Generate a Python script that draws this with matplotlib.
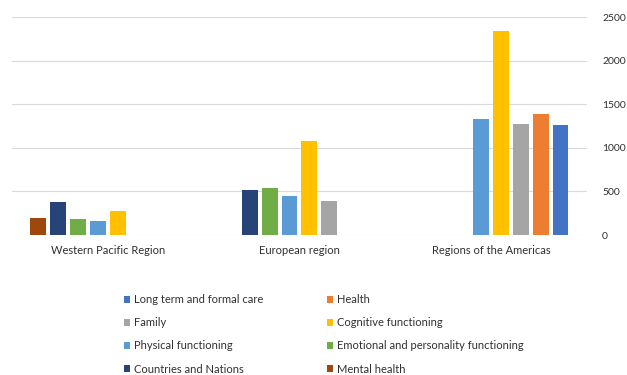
import matplotlib
matplotlib.use("Agg")
import matplotlib.pyplot as plt
import numpy as np

plt.rcParams['font.family'] = ['Lato', 'DejaVu Sans']

# Data
regions = ["Western Pacific Region", "European region", "Regions of the Americas"]

mental_health = [200, 0, 0]
countries_nations = [375, 512, 0]
emotional = [185, 535, 0]
physical = [165, 443, 1330]
cognitive = [280, 1075, 2345]
family = [0, 390, 1275]
health = [0, 0, 1390]
long_term = [0, 0, 1260]

# slot order left to right inside each group
series = [
    ("Mental health", mental_health, "#9E480E"),
    ("Countries and Nations", countries_nations, "#264478"),
    ("Emotional and personality functioning", emotional, "#70AD47"),
    ("Physical functioning", physical, "#5B9BD5"),
    ("Cognitive functioning", cognitive, "#FFC000"),
    ("Family", family, "#A5A5A5"),
    ("Health", health, "#ED7D31"),
    ("Long term and formal care", long_term, "#4472C4"),
]

text_col = "#303030"
grid_col = "#D9D9D9"

fig = plt.figure(figsize=(6.27, 3.75), dpi=100)
ax = fig.add_axes([0.019, 0.3733, 0.917, 0.5813])

x = np.arange(len(regions))
slot = 0.1036
width = 0.083
handles = {}
for i, (name, vals, col) in enumerate(series):
    vals = np.array(vals, dtype=float)
    pos = x + (i - 3.5) * slot
    mask = vals > 0
    b = ax.bar(pos[mask], vals[mask], width=width, color=col, zorder=3)
    handles[name] = b

ax.set_xlim(-0.5, 2.5)
ax.set_ylim(0, 2500)
ax.set_yticks(np.arange(0, 2501, 500))
ax.yaxis.tick_right()
ax.tick_params(axis='y', length=0, pad=11, labelsize=7.5, labelcolor=text_col)
ax.set_xticks(x)
ax.set_xticklabels(regions)
ax.tick_params(axis='x', length=0, pad=7, labelsize=8, labelcolor=text_col)
ax.grid(axis='y', color=grid_col, linewidth=0.8, zorder=0)
for s in ax.spines.values():
    s.set_visible(False)

# legend fills column-wise, so reorder
order = ["Long term and formal care", "Family", "Physical functioning", "Countries and Nations",
         "Health", "Cognitive functioning", "Emotional and personality functioning", "Mental health"]
leg = fig.legend([handles[n] for n in order], order, ncol=2, loc="upper left",
                 bbox_to_anchor=(0.19, 0.228), frameon=False, fontsize=8,
                 handlelength=0.6, handleheight=0.6, handletextpad=0.35,
                 columnspacing=5.7, labelspacing=1.1, borderaxespad=0)
for t in leg.get_texts():
    t.set_color(text_col)

fig.savefig("out.png", dpi=100)
